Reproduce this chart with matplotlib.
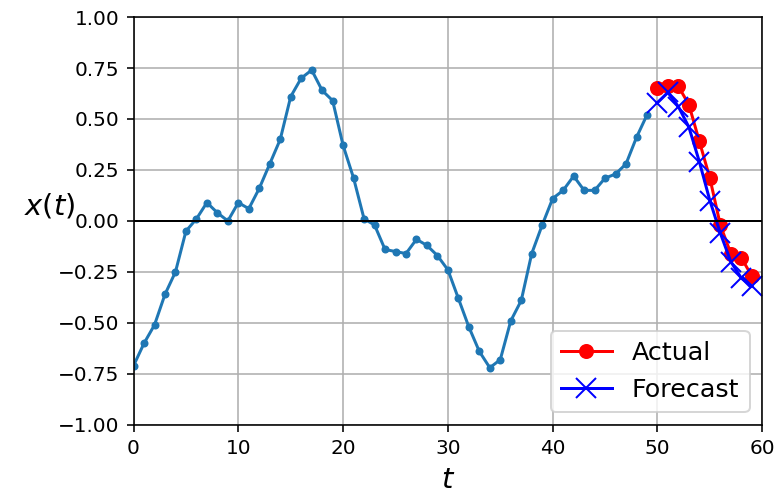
import numpy as np
import matplotlib
matplotlib.use("Agg")
import matplotlib.pyplot as plt

# observed series, t = 0..49
series = [-0.71, -0.60, -0.51, -0.36, -0.25, -0.05, 0.01, 0.09, 0.04, 0.00,
          0.09, 0.06, 0.16, 0.28, 0.40, 0.61, 0.70, 0.74, 0.64, 0.59,
          0.37, 0.21, 0.01, -0.02, -0.14, -0.15, -0.16, -0.09, -0.12, -0.17,
          -0.24, -0.38, -0.52, -0.64, -0.72, -0.68, -0.49, -0.39, -0.16, -0.02,
          0.11, 0.15, 0.22, 0.15, 0.15, 0.21, 0.23, 0.28, 0.41, 0.52]
# next 10 steps, t = 50..59
actual = [0.65, 0.66, 0.66, 0.57, 0.39, 0.21, -0.02, -0.16, -0.18, -0.27]
forecast = [0.58, 0.63, 0.56, 0.46, 0.29, 0.10, -0.06, -0.20, -0.28, -0.32]

n_steps = len(series)
ahead = len(actual)

dpi = 144
fig = plt.figure(figsize=(781 / dpi, 501 / dpi), dpi=dpi)
ax = fig.add_axes([0.171, 0.152, 0.805, 0.814])

ax.plot(np.arange(n_steps), series, ".-")
ax.plot(np.arange(n_steps, n_steps + ahead), actual, "ro-", label="Actual", markersize=6.5)
ax.plot(np.arange(n_steps, n_steps + ahead), forecast, "bx-", label="Forecast", markersize=10)

ax.axhline(0, color="k", linewidth=1)
ax.grid(True)
ax.set_xlabel("$t$", fontsize=14.5)
ax.set_ylabel("$x(t)$", fontsize=14.5, rotation=0)
ax.axis([0, n_steps + ahead, -1, 1])
ax.set_yticks(np.arange(-1, 1.01, 0.25))
ax.tick_params(labelsize=10)
ax.legend(fontsize=12.7, loc="lower right")

fig.savefig("out.png", dpi=dpi)
